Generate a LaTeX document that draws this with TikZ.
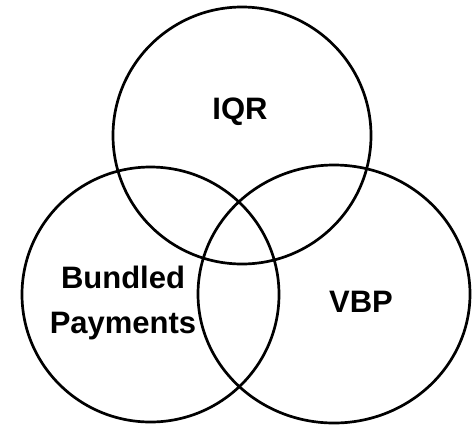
\documentclass[tikz,border=0pt]{standalone}
\usepackage{fontspec}
\setmainfont{Liberation Sans}
\usetikzlibrary{positioning}

\begin{document}
\begin{tikzpicture}[ x=1pt, y=-1pt, venn/.style={ draw=black, line width=2.7pt },
        setname/.style={ font=\fontsize{31}{45}\selectfont\bfseries,
          align=center, inner sep=0pt } ]
        \useasboundingbox (0,0) rectangle (476,424);

        \foreach \x/\y/\rx/\ry/\n in
        {242/135.5/129/128.5/iqr,150.5/294.5/128.5/127.5/bundled,334/294/136/129/vbp}
        \draw[venn] (\x,\y) coordinate (\n) ellipse [x radius=\rx, y radius=\ry];

        \node[setname] (iqrlabel) at (240,112) {IQR};
        \node[setname] (bundledlabel) at (123,303) {Bundled\\Payments};
        \node[setname] (vbplabel) at (361,302) {VBP};
      \end{tikzpicture}
\end{document}
